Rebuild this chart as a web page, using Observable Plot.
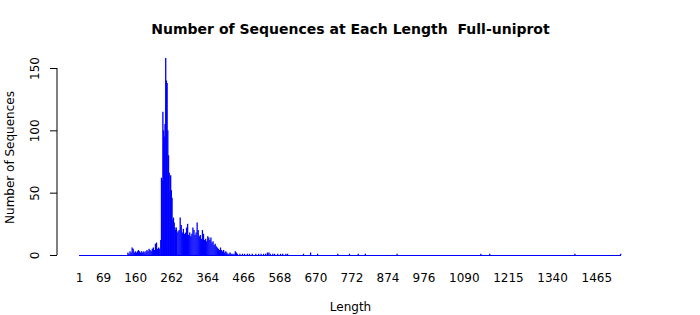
<!DOCTYPE html>
<html>
<head>
<meta charset="utf-8">
<script src="https://cdn.jsdelivr.net/npm/d3@7"></script>
<script src="https://cdn.jsdelivr.net/npm/@observablehq/plot@0.6"></script>
<style>
  html, body { margin: 0; padding: 0; background: #fff; }
  #chart svg { display: block; }
</style>
</head>
<body>
<div id="chart"></div>
<script>
// Sequence lengths (sampled) and number of sequences at each length
const lengths = [
  138,141,144,147,150,153,156,159,162,165,168,171,174,177,180,183,186,189,192,195,
  198,201,204,207,210,213,216,219,222,225,228,231,233,235,237,239,241,243,245,247,
  249,251,253,255,257,259,261,263,265,267,269,271,273,275,277,280,283,286,289,292,
  295,298,301,304,307,310,313,316,319,322,325,328,331,334,337,340,343,346,349,352,
  355,358,361,364,367,370,373,376,379,382,385,388,391,394,397,400,403,406,409,412,
  415,418,421,424,427,430,433,438,442,445,448,455,462,468,476,482,490,500,508,515,
  522,528,533,537,541,548,553,562,570,576,585,590,635,655,675,732,765,790,810,900,
  1137,1162,1403,1533
];
const counts = [
  2,1,3,2,6,5,2,3,2,3,4,3,2,3,2,3,2,3,4,3,
  5,4,3,5,6,4,9,10,5,6,5,12,62,60,115,100,95,105,158,140,
  138,100,80,66,50,64,52,46,28,30,26,22,20,22,18,19,20,30,24,18,
  21,17,18,22,25,16,18,15,17,22,20,16,18,26,20,15,16,13,20,17,
  12,13,11,15,14,12,14,10,11,8,9,7,6,5,4,6,4,3,4,2,
  3,2,1,1,2,1,1,1,3,2,1,1,1,1,1,1,1,1,1,1,
  1,1,2,2,1,1,1,1,1,1,1,1,1,2,1,1,1,1,1,1,
  1,1,1,1
];
const lengthRange = [1, 1535];
const xTickLabels = [1, 69, 160, 262, 364, 466, 568, 670, 772, 874, 976, 1090, 1215, 1340, 1465];
const yTickValues = [0, 50, 100, 150];
const titleText = "Number of Sequences at Each Length  Full-uniprot";
const xLabel = "Length";
const yLabel = "Number of Sequences";

const bars = lengths.map((l, i) => ({length: l, count: counts[i]}));

const axisLine = (index, scales, values, dims) => {
  const line = d3.create("svg:line")
    .attr("x1", dims.marginLeft).attr("x2", dims.marginLeft)
    .attr("y1", scales.y(150)).attr("y2", scales.y(0))
    .attr("stroke", "#000");
  return line.node();
};

const plot = Plot.plot({
  width: 700,
  height: 315,
  marginLeft: 57,
  marginRight: 79,
  marginTop: 68,
  marginBottom: 60,
  style: {fontFamily: "DejaVu Sans", fontSize: "12px", background: "#fff", color: "#000"},
  x: {domain: lengthRange, range: [79, 621], axis: null},
  y: {domain: [0, 150], axis: null},
  marks: [
    Plot.ruleY([{y: 0, a: lengthRange[0], b: lengthRange[1]}], {y: "y", x1: "a", x2: "b", stroke: "blue", strokeWidth: 1}),
    Plot.ruleX(bars, {x: "length", y1: 0, y2: "count", stroke: "blue", strokeWidth: 1.3}),
    axisLine,
    Plot.axisY({ticks: yTickValues, tickSize: 7, tickFormat: () => "", label: null, stroke: "#000"}),
    Plot.text(yTickValues, {y: d => d, frameAnchor: "left", dx: -22, rotate: -90, textAnchor: "middle", lineAnchor: "middle", text: d => String(d), fontSize: 12, fill: "#000"}),
    Plot.text(xTickLabels, {x: d => d, frameAnchor: "bottom", dy: 23, textAnchor: "middle", lineAnchor: "middle", text: d => String(d), fontSize: 12, fill: "#000"}),
    Plot.text([xLabel], {frameAnchor: "bottom", dx: 11, dy: 52, textAnchor: "middle", lineAnchor: "middle", text: d => d, fontSize: 12, fill: "#000"}),
    Plot.text([yLabel], {frameAnchor: "left", dx: -47, dy: -4.5, rotate: -90, textAnchor: "middle", lineAnchor: "middle", text: d => d, fontSize: 12, fill: "#000"}),
    Plot.text([titleText], {frameAnchor: "top", dx: 11, dy: -39, textAnchor: "middle", lineAnchor: "middle", text: d => d, fontSize: 14, fontWeight: "bold", fill: "#000"})
  ]
});
document.getElementById("chart").appendChild(plot);
</script>
</body>
</html>
